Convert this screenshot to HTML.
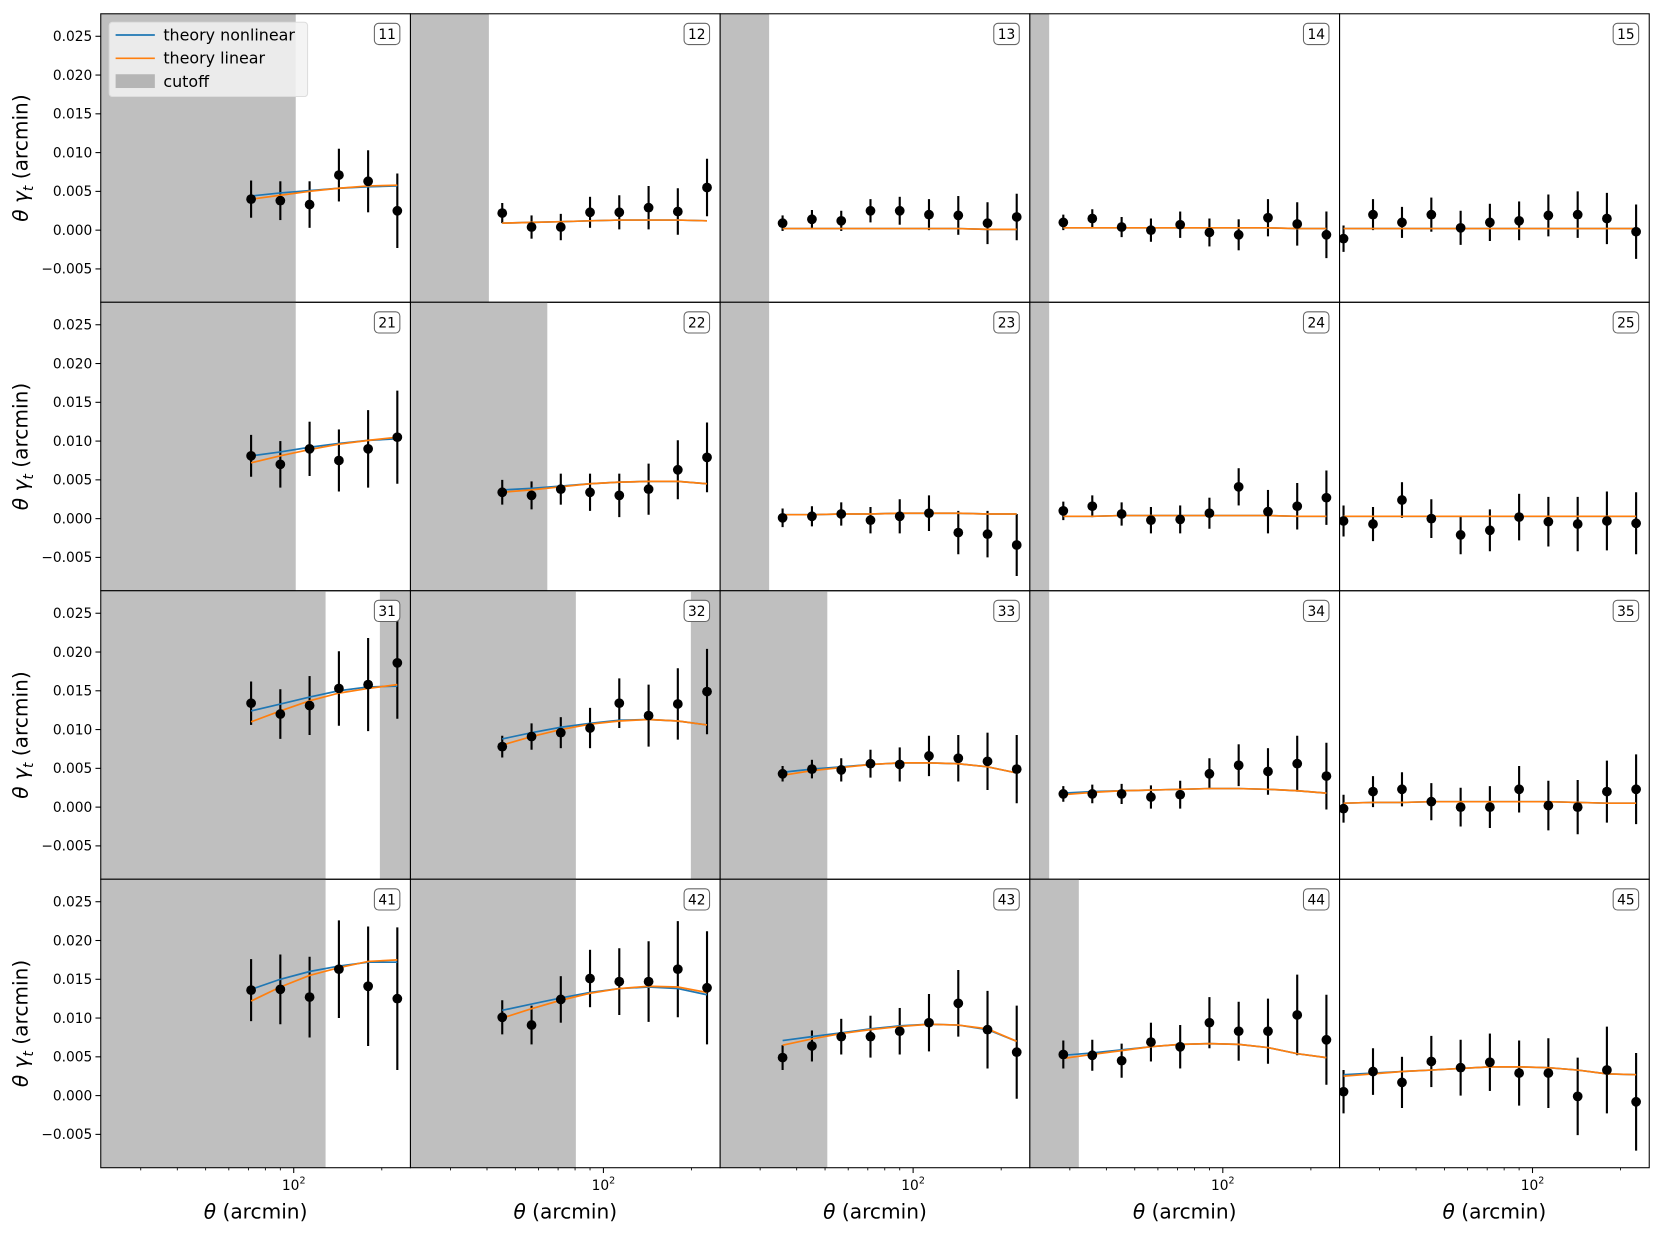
<!DOCTYPE html>
<html><head><meta charset="utf-8">
<style>
html,body{margin:0;padding:0;background:#fff;}
svg{display:block;font-family:"DejaVu Sans","Liberation Sans",sans-serif;}
</style></head>
<body>
<svg id="chart" width="1663" height="1235" viewBox="0 0 1663 1235" xmlns="http://www.w3.org/2000/svg"><g id="root" transform="scale(1.0606)"></g></svg>
<script>
// bin centres (arcmin) and per-column starting bin
const thetaBins = [22.6, 28.5, 35.8, 45.1, 56.8, 71.5, 90.0, 113.3, 142.7, 179.6, 226.0];
const colStart = [5, 3, 2, 1, 0];
const panelIds = [11,12,13,14,15,21,22,23,24,25,31,32,33,34,35,41,42,43,44,45];
const yTicks = [-0.005, 0.000, 0.005, 0.010, 0.015, 0.020, 0.025];
const yTickLabels = ["\u22120.005","0.000","0.005","0.010","0.015","0.020","0.025"];
// cutoff regions [lo, hi] in arcmin
const cutoffs = [
 [[0,101.6]], [[0,40.6]], [[0,32.2]], [[0,25.5]], [],
 [[0,101.6]], [[0,64.3]], [[0,32.2]], [[0,25.5]], [],
 [[0,128.5],[197,1000]], [[0,80.5],[199,1000]], [[0,50.9]], [[0,25.5]], [],
 [[0,128.5]], [[0,80.5]], [[0,50.9]], [[0,32.2]], []
];
const dataVals = [
 [0.0040,0.0038,0.0033,0.0071,0.0063,0.0025],
 [0.0022,0.0004,0.0004,0.0023,0.0023,0.0029,0.0024,0.0055],
 [0.0009,0.0014,0.0012,0.0025,0.0025,0.0020,0.0019,0.0009,0.0017],
 [0.0010,0.0015,0.0004,0.0000,0.0007,-0.0003,-0.0006,0.0016,0.0008,-0.0006],
 [-0.0011,0.0020,0.0010,0.0020,0.0003,0.0010,0.0012,0.0019,0.0020,0.0015,-0.0002],
 [0.0081,0.0070,0.0090,0.0075,0.0090,0.0105],
 [0.0034,0.0030,0.0038,0.0034,0.0030,0.0038,0.0063,0.0079],
 [0.0001,0.0003,0.0006,-0.0002,0.0003,0.0007,-0.0018,-0.0020,-0.0034],
 [0.0010,0.0016,0.0006,-0.0002,-0.0001,0.0007,0.0041,0.0009,0.0016,0.0027],
 [-0.0003,-0.0007,0.0024,0.0000,-0.0021,-0.0015,0.0002,-0.0004,-0.0007,-0.0003,-0.0006],
 [0.0134,0.0120,0.0131,0.0153,0.0158,0.0186],
 [0.0078,0.0091,0.0096,0.0102,0.0134,0.0118,0.0133,0.0149],
 [0.0043,0.0049,0.0048,0.0056,0.0055,0.0066,0.0063,0.0059,0.0049],
 [0.0017,0.0017,0.0017,0.0013,0.0016,0.0043,0.0054,0.0046,0.0056,0.0040],
 [-0.0002,0.0020,0.0023,0.0007,0.0000,0.0000,0.0023,0.0002,0.0000,0.0020,0.0023],
 [0.0136,0.0137,0.0127,0.0163,0.0141,0.0125],
 [0.0101,0.0091,0.0124,0.0151,0.0147,0.0147,0.0163,0.0139],
 [0.0049,0.0064,0.0076,0.0076,0.0083,0.0094,0.0119,0.0085,0.0056],
 [0.0053,0.0052,0.0045,0.0069,0.0063,0.0094,0.0083,0.0083,0.0104,0.0072],
 [0.0005,0.0031,0.0017,0.0044,0.0036,0.0043,0.0029,0.0029,-0.0001,0.0033,-0.0008]
];
const dataErrs = [
 [0.0024,0.0025,0.0030,0.0034,0.0040,0.0048],
 [0.0013,0.0015,0.0017,0.0020,0.0022,0.0028,0.0030,0.0037],
 [0.0010,0.0012,0.0013,0.0015,0.0018,0.0020,0.0025,0.0027,0.0030],
 [0.0010,0.0012,0.0013,0.0015,0.0017,0.0018,0.0020,0.0024,0.0028,0.0030],
 [0.0017,0.0020,0.0020,0.0022,0.0022,0.0024,0.0025,0.0027,0.0030,0.0033,0.0035],
 [0.0027,0.0030,0.0035,0.0040,0.0050,0.0060],
 [0.0016,0.0018,0.0020,0.0024,0.0028,0.0033,0.0038,0.0045],
 [0.0012,0.0013,0.0015,0.0017,0.0022,0.0023,0.0028,0.0030,0.0040],
 [0.0012,0.0014,0.0015,0.0017,0.0018,0.0020,0.0024,0.0028,0.0030,0.0035],
 [0.0020,0.0022,0.0023,0.0025,0.0025,0.0027,0.0030,0.0032,0.0035,0.0038,0.0040],
 [0.0028,0.0032,0.0038,0.0048,0.0060,0.0072],
 [0.0014,0.0017,0.0020,0.0026,0.0032,0.0040,0.0046,0.0055],
 [0.0010,0.0012,0.0015,0.0018,0.0022,0.0026,0.0030,0.0037,0.0044],
 [0.0010,0.0012,0.0013,0.0015,0.0018,0.0020,0.0027,0.0030,0.0036,0.0043],
 [0.0018,0.0020,0.0022,0.0024,0.0025,0.0027,0.0030,0.0032,0.0035,0.0040,0.0045],
 [0.0040,0.0045,0.0052,0.0063,0.0077,0.0092],
 [0.0022,0.0025,0.0030,0.0037,0.0043,0.0052,0.0062,0.0073],
 [0.0016,0.0020,0.0023,0.0027,0.0030,0.0037,0.0043,0.0050,0.0060],
 [0.0018,0.0020,0.0022,0.0025,0.0028,0.0033,0.0038,0.0042,0.0052,0.0058],
 [0.0028,0.0030,0.0033,0.0033,0.0036,0.0037,0.0042,0.0045,0.0050,0.0056,0.0063]
];
const theoryNL = [
 [0.0044,0.0048,0.0051,0.0054,0.0056,0.0057],
 [0.0009,0.0010,0.0011,0.0012,0.0013,0.0013,0.0013,0.0012],
 [0.0002,0.0002,0.0002,0.0002,0.0002,0.0002,0.0002,0.0001,0.0001],
 [0.0003,0.0003,0.0003,0.0003,0.0003,0.0003,0.0003,0.0003,0.0002,0.0002],
 [0.0002,0.0002,0.0002,0.0002,0.0002,0.0002,0.0002,0.0002,0.0002,0.0002,0.0002],
 [0.0081,0.0086,0.0092,0.0097,0.0101,0.0103],
 [0.0037,0.0039,0.0042,0.0045,0.0047,0.0048,0.0048,0.0045],
 [0.0005,0.0005,0.0006,0.0006,0.0007,0.0007,0.0007,0.0006,0.0006],
 [0.0003,0.0003,0.0004,0.0004,0.0004,0.0004,0.0004,0.0004,0.0003,0.0003],
 [0.0003,0.0003,0.0003,0.0003,0.0003,0.0003,0.0003,0.0003,0.0003,0.0003,0.0003],
 [0.0124,0.0133,0.0142,0.0150,0.0155,0.0156],
 [0.0088,0.0096,0.0103,0.0108,0.0112,0.0113,0.0111,0.0106],
 [0.0045,0.0049,0.0052,0.0055,0.0057,0.0057,0.0056,0.0052,0.0044],
 [0.0018,0.0020,0.0021,0.0022,0.0023,0.0024,0.0024,0.0023,0.0021,0.0018],
 [0.0005,0.0006,0.0006,0.0007,0.0007,0.0007,0.0007,0.0007,0.0006,0.0005,0.0005],
 [0.0137,0.0150,0.0160,0.0167,0.0172,0.0172],
 [0.0110,0.0118,0.0126,0.0133,0.0138,0.0140,0.0138,0.0130],
 [0.0071,0.0076,0.0081,0.0086,0.0090,0.0092,0.0091,0.0085,0.0070],
 [0.0052,0.0055,0.0059,0.0063,0.0066,0.0067,0.0066,0.0062,0.0054,0.0049],
 [0.0027,0.0029,0.0031,0.0033,0.0035,0.0037,0.0037,0.0036,0.0033,0.0028,0.0027]
];
const theoryLin = [
 [0.0040,0.0045,0.0050,0.0054,0.0057,0.0058],
 [0.0009,0.0010,0.0011,0.0012,0.0013,0.0013,0.0013,0.0012],
 [0.0002,0.0002,0.0002,0.0002,0.0002,0.0002,0.0002,0.0001,0.0001],
 [0.0003,0.0003,0.0003,0.0003,0.0003,0.0003,0.0003,0.0003,0.0002,0.0002],
 [0.0002,0.0002,0.0002,0.0002,0.0002,0.0002,0.0002,0.0002,0.0002,0.0002,0.0002],
 [0.0072,0.0081,0.0089,0.0096,0.0101,0.0105],
 [0.0034,0.0037,0.0041,0.0045,0.0047,0.0048,0.0048,0.0045],
 [0.0005,0.0005,0.0006,0.0006,0.0007,0.0007,0.0007,0.0006,0.0006],
 [0.0003,0.0003,0.0004,0.0004,0.0004,0.0004,0.0004,0.0004,0.0003,0.0003],
 [0.0003,0.0003,0.0003,0.0003,0.0003,0.0003,0.0003,0.0003,0.0003,0.0003,0.0003],
 [0.0110,0.0124,0.0137,0.0147,0.0153,0.0158],
 [0.0080,0.0091,0.0100,0.0107,0.0111,0.0113,0.0111,0.0106],
 [0.0041,0.0047,0.0051,0.0055,0.0057,0.0057,0.0056,0.0052,0.0044],
 [0.0016,0.0019,0.0021,0.0022,0.0023,0.0024,0.0024,0.0023,0.0021,0.0018],
 [0.0005,0.0006,0.0006,0.0007,0.0007,0.0007,0.0007,0.0007,0.0006,0.0005,0.0005],
 [0.0122,0.0140,0.0155,0.0165,0.0173,0.0175],
 [0.0100,0.0112,0.0123,0.0132,0.0138,0.0141,0.0140,0.0133],
 [0.0065,0.0073,0.0080,0.0085,0.0089,0.0092,0.0091,0.0086,0.0070],
 [0.0048,0.0053,0.0058,0.0063,0.0066,0.0067,0.0066,0.0062,0.0054,0.0049],
 [0.0025,0.0028,0.0031,0.0033,0.0035,0.0037,0.0037,0.0036,0.0033,0.0028,0.0027]
];

const NS = "http://www.w3.org/2000/svg";
const svg = document.getElementById('root');
const PX0 = 95, PY0 = 13, PW = 292, PH = 272;
const XMIN = 21.9, XMAX = 250.6, YMIN = -0.0093, YMAX = 0.0279;
function mk(tag, attrs, parent){const e=document.createElementNS(NS,tag);for(const k in attrs)e.setAttribute(k,attrs[k]);(parent||svg).appendChild(e);return e;}
function xs(c,t){return PX0 + c*PW + (Math.log10(t)-Math.log10(XMIN))/(Math.log10(XMAX)-Math.log10(XMIN))*PW;}
function ys(r,v){return PY0 + r*PH + (YMAX-v)/(YMAX-YMIN)*PH;}

panelIds.forEach((id,i)=>{
  const r=Math.floor(i/5), c=i%5;
  const g=mk('g',{});
  
  
  const x0=PX0+c*PW, y0=PY0+r*PH;
  const cp='clip'+id;
  const cl=mk('clipPath',{id:cp},g); mk('rect',{x:x0,y:y0,width:PW,height:PH},cl);
  cutoffs[i].forEach(([lo,hi])=>{
    const a=Math.max(x0, lo<=0?x0:xs(c,lo)), b=Math.min(x0+PW, xs(c,hi));
    const rc=mk('rect',{x:a,y:y0,width:b-a,height:PH,fill:'#bfbfbf'},g);
    
    
  });
  const s=colStart[c];
  const gc=mk('g',{'clip-path':'url(#'+cp+')'},g);
  dataVals[i].forEach((v,j)=>{
    const px=xs(c,thetaBins[s+j]);
    const e=dataErrs[i][j];
    const ln=mk('line',{x1:px,x2:px,y1:ys(r,v-e),y2:ys(r,v+e),stroke:'#000','stroke-width':2},gc);
    
    
  });
  [[theoryNL,'#1f77b4','theory-nonlinear-line'],[theoryLin,'#ff7f0e','theory-linear-line']].forEach(([arr,col,nm])=>{
    const pts=arr[i].map((v,j)=>xs(c,thetaBins[s+j]).toFixed(1)+','+ys(r,v).toFixed(1)).join(' ');
    const pl=mk('polyline',{points:pts,fill:'none',stroke:col,'stroke-width':1.6},gc);
    
    
  });
  dataVals[i].forEach((v,j)=>{
    const pt=mk('circle',{cx:xs(c,thetaBins[s+j]),cy:ys(r,v),r:4.6,fill:'#000'},gc);
    
    
  });
  const fr=mk('rect',{x:x0,y:y0,width:PW,height:PH,fill:'none',stroke:'#000','stroke-width':1},g);
  
  
  const bx=mk('rect',{x:x0+PW-34,y:y0+9,width:24,height:20,rx:4,fill:'#fff',stroke:'#666','stroke-width':1},g);
  
  
  const tx=mk('text',{x:x0+PW-22,y:y0+24,'text-anchor':'middle','font-size':13,fill:'#000'},g);
  tx.textContent=String(id);
  
  
  if(c===0){
    yTicks.forEach((v,k)=>{
      const yy=ys(r,v);
      mk('line',{x1:x0-5,x2:x0,y1:yy,y2:yy,stroke:'#000','stroke-width':1},g);
      const t=mk('text',{x:x0-8,y:yy+4.5,'text-anchor':'end','font-size':13,fill:'#000'},g);
      t.textContent=yTickLabels[k];
      
      
    });
    const yl=mk('text',{x:0,y:0,transform:`translate(26,${y0+PH/2}) rotate(-90)`,'text-anchor':'middle','font-size':19,fill:'#000'},g);
    yl.innerHTML='<tspan font-style="italic">θ γ</tspan><tspan font-style="italic" font-size="13" dy="5">t</tspan><tspan dy="-5">  (arcmin)</tspan>';
    
    
  }
  if(r===3){
    const yb=y0+PH;
    [30,40,50,60,70,80,90,200].forEach(t=>{const xx=xs(c,t);mk('line',{x1:xx,x2:xx,y1:yb,y2:yb+2.5,stroke:'#000','stroke-width':0.8},g);});
    const xx=xs(c,100);
    mk('line',{x1:xx,x2:xx,y1:yb,y2:yb+5,stroke:'#000','stroke-width':1},g);
    const t=mk('text',{x:xx,y:yb+21,'text-anchor':'middle','font-size':13,fill:'#000'},g);
    t.innerHTML='10<tspan font-size="9" dy="-6">2</tspan>';
    
    
    const xl=mk('text',{x:x0+PW/2,y:yb+48,'text-anchor':'middle','font-size':19,fill:'#000'},g);
    xl.innerHTML='<tspan font-style="italic">θ</tspan> (arcmin)';
    
    
  }
});
const lg=mk('g',{});


mk('rect',{x:103,y:21,width:187,height:70,rx:3,fill:'#f2f2f2','fill-opacity':0.85,stroke:'#ddd'},lg);
mk('line',{x1:109,x2:146,y1:33,y2:33,stroke:'#1f77b4','stroke-width':1.6},lg);
mk('line',{x1:109,x2:146,y1:55,y2:55,stroke:'#ff7f0e','stroke-width':1.6},lg);
mk('rect',{x:109,y:70,width:37,height:13,fill:'#b5b5b5'},lg);
[['theory nonlinear',38],['theory linear',60],['cutoff',82]].forEach(([s,y])=>{
  const t=mk('text',{x:154,y:y,'font-size':15,fill:'#000'},lg);
  t.textContent=s;
  
  
});
</script>
</body></html>
